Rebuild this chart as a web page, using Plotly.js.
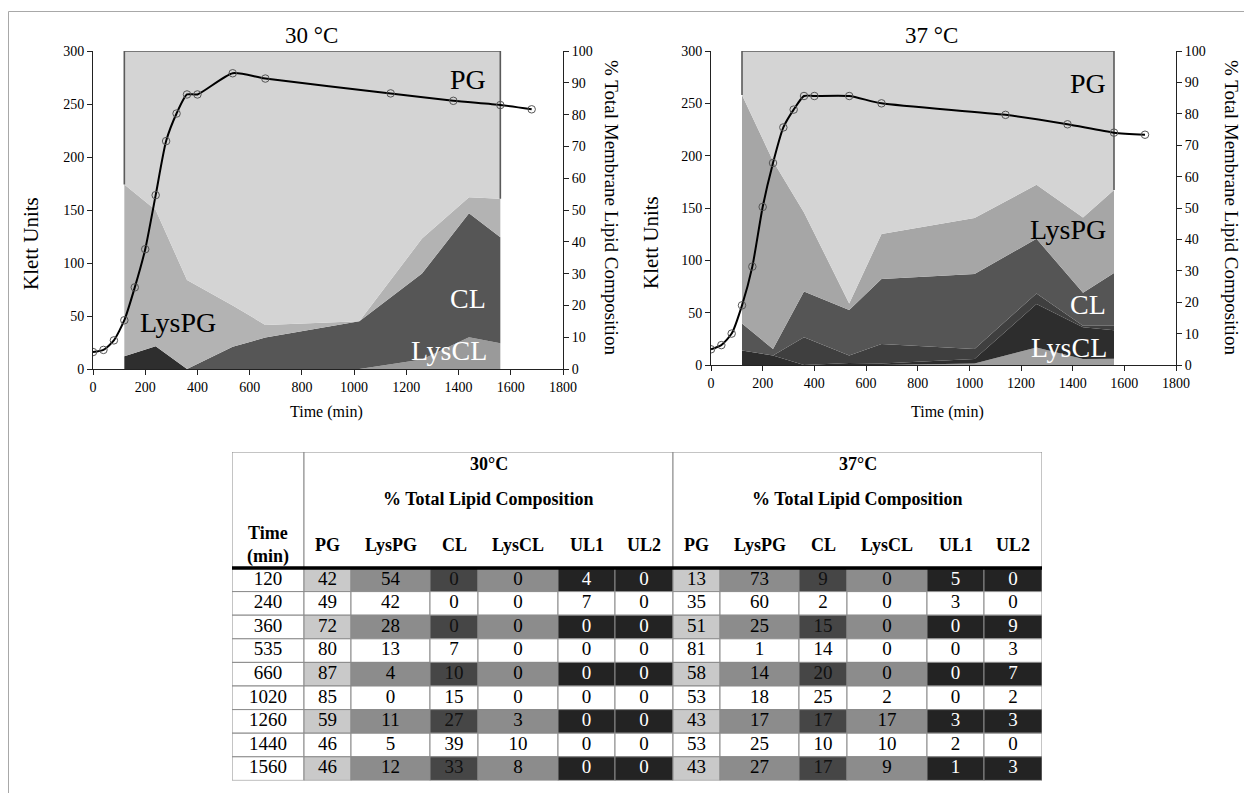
<!DOCTYPE html>
<html><head><meta charset="utf-8">
<script src="https://cdn.plot.ly/plotly-3.0.1.min.js"></script>
<style>html,body{margin:0;padding:0;background:#fff}#chart{width:1244px;height:793px}</style>
</head><body><div id="chart"></div>
<script>
// ---------------- DATA ----------------
const growthTimes = [0,40,80,120,160,200,240,280,320,360,400,535,660,1140,1380,1560,1680];
const klett30 = [16,18,27,46,77,113,164,215,241,259,259,279,274,260,253,249,245];
const klett37 = [15,19,30,57,94,151,193,227,244,257,257,257,250,239,230,222,220];

const lipidTimes = [120,240,360,535,660,1020,1260,1440,1560];
const lipidNames = ['PG','LysPG','CL','LysCL','UL1','UL2'];

// table, 30 °C
const t30_PG    = [42,49,72,80,87,85,59,46,46];
const t30_LysPG = [54,42,28,13,4,0,11,5,12];
const t30_CL    = [0,0,0,7,10,15,27,39,33];
const t30_LysCL = [0,0,0,0,0,0,3,10,8];
const t30_UL1   = [4,7,0,0,0,0,0,0,0];
const t30_UL2   = [0,0,0,0,0,0,0,0,0];
// table, 37 °C
const t37_PG    = [13,35,51,81,58,53,43,53,43];
const t37_LysPG = [73,60,25,1,14,18,17,25,27];
const t37_CL    = [9,2,15,14,20,25,17,10,17];
const t37_LysCL = [0,0,0,0,0,2,17,10,9];
const t37_UL1   = [5,3,0,0,0,0,3,2,1];
const t37_UL2   = [0,0,9,3,7,2,3,0,3];

// stacked areas of the 37 °C chart
const c37_LysCL = [0,0,0,0,0,0.5,5.6,1.9,2];
const c37_UL1   = [4.6,3,0,0.6,0.5,1.4,13.8,10.1,9.1];
const c37_UL2   = [0,0,8.8,2.4,6.2,3.2,3.4,0.5,1.4];
const c37_CL    = [8.6,2.1,14.6,14.5,20.7,23.9,17.4,10.5,16.8];
const c37_LysPG = [72.8,59.9,25.2,2.1,14.3,17.8,17.2,24,26.4];
const c37_PG    = [14,35,51.4,80.4,58.3,53.2,42.6,53,44.3];

// ---------------- LAYOUT HELPERS ----------------
const W = 1244, H = 793;
const px = v => v / W, py = v => 1 - v / H;
const FONT = 'Liberation Serif';

const axBase = {
  showgrid:false, zeroline:false, showline:true, linecolor:'#222', linewidth:1,
  ticks:'outside', ticklen:5, tickcolor:'#222', tickwidth:1,
  tickfont:{family:FONT, size:14, color:'#000'}, fixedrange:true
};

const traces = [];
function addStack(xa, ya, group, layers) {
  layers.forEach(L => {
    traces.push({
      x: lipidTimes, y: L.v, xaxis: xa, yaxis: ya, stackgroup: group, groupnorm: 'percent',
      mode: 'lines', line: {width: 0, color: L.c}, fillcolor: L.c,
      hoverinfo: 'skip', name: L.n
    });
  });
  // outline of the top (PG) series: sides + top (100 % stacked)
  const n = lipidTimes.length;
  const total = i => layers.reduce((s, L) => s + L.v[i], 0);
  const below = i => layers.slice(0, -1).reduce((s, L) => s + L.v[i], 0) / total(i) * 100;
  traces.push({
    x: [lipidTimes[0], lipidTimes[0], lipidTimes[n-1], lipidTimes[n-1]],
    y: [below(0), 100, 100, below(n-1)],
    xaxis: xa, yaxis: ya, mode: 'lines', line: {color:'#5a5a5a', width:1.6},
    hoverinfo: 'skip'
  });
}
addStack('x','y','s30',[
  {n:'LysCL', v:t30_LysCL, c:'#9a9a9a'},
  {n:'UL1',   v:t30_UL1,   c:'#2e2e2e'},
  {n:'UL2',   v:t30_UL2,   c:'#3f3f3f'},
  {n:'CL',    v:t30_CL,    c:'#565656'},
  {n:'LysPG', v:t30_LysPG, c:'#b3b3b3'},
  {n:'PG',    v:t30_PG,    c:'#d4d4d4'}
]);
addStack('x2','y3','s37',[
  {n:'LysCL', v:c37_LysCL, c:'#9e9e9e'},
  {n:'UL1',   v:c37_UL1,   c:'#2d2d2d'},
  {n:'UL2',   v:c37_UL2,   c:'#3f3f3f'},
  {n:'CL',    v:c37_CL,    c:'#555555'},
  {n:'LysPG', v:c37_LysPG, c:'#a6a6a6'},
  {n:'PG',    v:c37_PG,    c:'#d4d4d4'}
]);
function addGrowth(xa, ya, vals) {
  traces.push({
    x: growthTimes, y: vals, xaxis: xa, yaxis: ya, mode:'lines+markers',
    line:{color:'#000', width:2, shape:'spline', smoothing:0.6},
    marker:{symbol:'circle-open', size:7.5, color:'#555', line:{width:1, color:'#555'}},
    hoverinfo:'skip'
  });
}
addGrowth('x','y2',klett30);
addGrowth('x2','y4',klett37);

// ---------------- TABLE ----------------
const colW = [72, 47,79,48,80,57,58, 47,79,48,80,57,58];
const colEdges = [0]; colW.forEach(w => colEdges.push(colEdges[colEdges.length-1] + w));
const tblW = colEdges[colEdges.length-1];
const headH = 116, rowH = 23.6;
const tblH = headH + rowH * lipidTimes.length;
const tblTop = 452, tblLeft = 232;
const colCenter = j => (colEdges[j] + colEdges[j+1]) / 2;
const rowCenter = i => headH + rowH * (i + 0.5);

const shadeFill = {PG:'#c9c9c9', LysPG:'#8c8c8c', CL:'#464646', LysCL:'#8c8c8c', UL1:'#232323', UL2:'#232323'};
const shadeText = {PG:'#000', LysPG:'#000', CL:'#111', LysCL:'#000', UL1:'#fff', UL2:'#fff'};
const tableCols = [
  t30_PG,t30_LysPG,t30_CL,t30_LysCL,t30_UL1,t30_UL2,
  t37_PG,t37_LysPG,t37_CL,t37_LysCL,t37_UL1,t37_UL2
];

const shapes = [];
const GRID = '#8a8a8a';
// frame around the figure
shapes.push({type:'rect', xref:'paper', yref:'paper', x0:px(8.5), x1:px(1300), y0:py(850), y1:py(11.5),
  line:{color:'#a8a8a8', width:1}, fillcolor:'rgba(0,0,0,0)'});
// body cells
const tx = [], ty = [], tt = [], tc = [];
lipidTimes.forEach((t, i) => {
  const y0 = headH + rowH * i, y1 = y0 + rowH;
  const shaded = i % 2 === 0;
  shapes.push({type:'rect', xref:'x3', yref:'y5', x0:colEdges[0], x1:colEdges[1], y0, y1,
    fillcolor:'#fff', line:{color:GRID, width:1}, layer:'below'});
  tx.push(colCenter(0)); ty.push(rowCenter(i)); tt.push(String(t)); tc.push('#000');
  tableCols.forEach((arr, k) => {
    const j = k + 1, nm = lipidNames[k % 6];
    shapes.push({type:'rect', xref:'x3', yref:'y5', x0:colEdges[j], x1:colEdges[j+1], y0, y1,
      fillcolor: shaded ? shadeFill[nm] : '#fff', line:{color:GRID, width:1}, layer:'below'});
    tx.push(colCenter(j)); ty.push(rowCenter(i)); tt.push(String(arr[i]));
    tc.push(shaded ? shadeText[nm] : '#000');
  });
});
// header cells: time, group 30, group 37
[[0,1],[1,7],[7,13]].forEach(([a,b]) => {
  shapes.push({type:'rect', xref:'x3', yref:'y5', x0:colEdges[a], x1:colEdges[b], y0:0, y1:headH,
    fillcolor:'#fff', line:{color:GRID, width:1}, layer:'below'});
});
// thick rule under header
shapes.push({type:'line', xref:'x3', yref:'y5', x0:0, x1:tblW, y0:headH, y1:headH,
  line:{color:'#000', width:3.5}, layer:'below'});

traces.push({x:tx, y:ty, text:tt, mode:'text', xaxis:'x3', yaxis:'y5',
  textfont:{family:FONT, size:19, color:tc}, textposition:'middle center', hoverinfo:'skip'});

// ---------------- ANNOTATIONS ----------------
const ann = [];
const A = (o) => ann.push(Object.assign({showarrow:false, font:{family:FONT, size:16, color:'#000'}}, o));
// chart titles
A({text:'30 °C', xref:'paper', yref:'paper', x:px(311), y:py(36), xanchor:'center', yanchor:'middle', font:{family:FONT,size:23,color:'#000'}});
A({text:'37 °C', xref:'paper', yref:'paper', x:px(931), y:py(36), xanchor:'center', yanchor:'middle', font:{family:FONT,size:23,color:'#000'}});
// axis titles
[[31,244],[651,243]].forEach(([x,y]) => A({text:'Klett Units', xref:'paper', yref:'paper', x:px(x), y:py(y), textangle:-90, xanchor:'center', yanchor:'middle', font:{family:FONT,size:21,color:'#000'}}));
[[612,207],[1232,207]].forEach(([x,y]) => A({text:'% Total Membrane Lipid Composition', xref:'paper', yref:'paper', x:px(x), y:py(y), textangle:90, xanchor:'center', yanchor:'middle', font:{family:FONT,size:19,color:'#000'}}));
[[326,412],[947,412]].forEach(([x,y]) => A({text:'Time (min)', xref:'paper', yref:'paper', x:px(x), y:py(y), xanchor:'center', yanchor:'middle', font:{family:FONT,size:16,color:'#000'}}));
// in-chart labels
const big = (c) => ({family:FONT, size:28, color:c});
A({text:'PG', xref:'x', yref:'y', x:1435, y:91, font:big('#000')});
A({text:'LysPG', xref:'x', yref:'y', x:326, y:14.5, font:big('#000')});
A({text:'CL', xref:'x', yref:'y', x:1437, y:22.3, font:big('#fff')});
A({text:'LysCL', xref:'x', yref:'y', x:1362, y:5.8, font:big('#fff')});
A({text:'PG', xref:'x2', yref:'y3', x:1460, y:89.6, font:big('#000')});
A({text:'LysPG', xref:'x2', yref:'y3', x:1382, y:43.3, font:big('#000')});
A({text:'CL', xref:'x2', yref:'y3', x:1460, y:19.4, font:big('#fff')});
A({text:'LysCL', xref:'x2', yref:'y3', x:1386, y:5.6, font:big('#fff')});
// table header text
const hb = {family:FONT, size:18, color:'#000'};
[[1,7,'30°C'],[7,13,'37°C']].forEach(([a,b,lab]) => {
  const cx = (colEdges[a] + colEdges[b]) / 2;
  A({text:'<b>'+lab+'</b>', xref:'x3', yref:'y5', x:cx, y:12, font:hb});
  A({text:'<b>% Total Lipid Composition</b>', xref:'x3', yref:'y5', x:cx, y:47, font:hb});
});
A({text:'<b>Time</b>', xref:'x3', yref:'y5', x:colCenter(0), y:81, font:hb});
A({text:'<b>(min)</b>', xref:'x3', yref:'y5', x:colCenter(0), y:104, font:hb});
for (let k = 0; k < 12; k++) {
  A({text:'<b>'+lipidNames[k % 6]+'</b>', xref:'x3', yref:'y5', x:colCenter(k+1), y:93, font:hb});
}

// ---------------- LAYOUT ----------------
const layout = {
  width:W, height:H, margin:{l:0,r:0,t:0,b:0}, showlegend:false,
  paper_bgcolor:'#fff', plot_bgcolor:'rgba(0,0,0,0)',
  font:{family:FONT, size:14, color:'#000'},
  xaxis: Object.assign({}, axBase, {domain:[px(93), px(563)], anchor:'y', range:[0,1800], dtick:200, tick0:0}),
  yaxis: Object.assign({}, axBase, {domain:[py(369), py(51)], anchor:'x', side:'right', range:[0,100], dtick:10}),
  yaxis2: Object.assign({}, axBase, {overlaying:'y', anchor:'x', side:'left', range:[0,300], dtick:50}),
  xaxis2: Object.assign({}, axBase, {domain:[px(711), px(1176)], anchor:'y3', range:[0,1800], dtick:200, tick0:0}),
  yaxis3: Object.assign({}, axBase, {domain:[py(365), py(51)], anchor:'x2', side:'right', range:[0,100], dtick:10}),
  yaxis4: Object.assign({}, axBase, {overlaying:'y3', anchor:'x2', side:'left', range:[0,300], dtick:50}),
  xaxis3: {domain:[px(tblLeft), px(tblLeft + tblW)], anchor:'y5', range:[0, tblW], visible:false, fixedrange:true},
  yaxis5: {domain:[py(tblTop + tblH), py(tblTop)], anchor:'x3', range:[tblH, 0], visible:false, fixedrange:true},
  shapes: shapes,
  annotations: ann
};

Plotly.newPlot('chart', traces, layout, {staticPlot:true, displayModeBar:false});
</script>
</body></html>
